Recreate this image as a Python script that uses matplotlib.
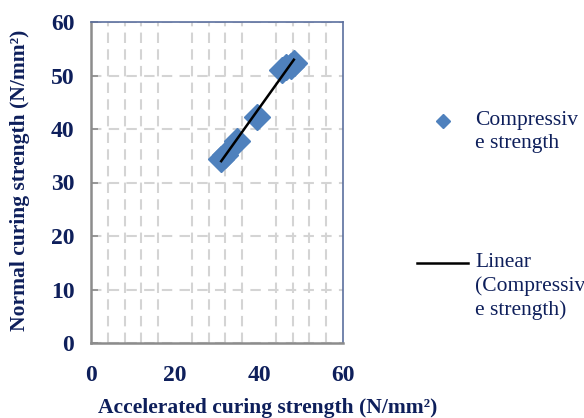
import numpy as np
import matplotlib
matplotlib.use("Agg")
import matplotlib.pyplot as plt
from matplotlib.lines import Line2D
from matplotlib.ticker import MultipleLocator

# accelerated vs normal curing compressive strength (N/mm2)
accel = [31.0, 31.9, 34.7, 39.5, 45.5, 46.5, 47.5, 48.3]
normal = [34.4, 35.1, 37.8, 42.2, 51.0, 51.5, 51.8, 52.4]

series_label = "Compressiv\ne strength"
trend_label = "Linear\n(Compressiv\ne strength)"

navy = "#0e1f5b"
blue = "#4f81bd"
plt.rcParams["font.family"] = ["Liberation Serif", "DejaVu Serif"]

fig = plt.figure(figsize=(5.84, 4.18), dpi=100)
ax = fig.add_axes([91/584, 1-343/418, 252/584, 321/418])

ax.plot(accel, normal, linestyle="none", marker="D", markersize=13,
        color=blue, markeredgecolor=blue, zorder=3)

# least squares trend line over the data range
k, b = np.polyfit(accel, normal, 1)
xs = np.array([min(accel), max(accel)])
ax.plot(xs, k*xs + b, color="black", lw=1.8, zorder=4)

ax.set_xlim(0, 60)
ax.set_ylim(0, 60)
ax.set_xticks([0, 20, 40, 60])
ax.set_yticks(range(0, 61, 10))
ax.xaxis.set_minor_locator(MultipleLocator(4))
ax.yaxis.grid(True, which="major", color="#d4d4d4", lw=1.5, ls=(0, (5, 3.5)))
ax.xaxis.grid(True, which="minor", color="#d4d4d4", lw=1.5, ls=(0, (5, 3)))
ax.set_axisbelow(True)

ax.tick_params(axis="y", direction="in", length=5, width=1.2, color="#8c8c8c",
               labelsize=17, labelcolor=navy, pad=12)
ax.tick_params(axis="x", length=0, labelsize=17, labelcolor=navy, pad=16)
ax.tick_params(which="minor", length=0)
for t in ax.get_xticklabels() + ax.get_yticklabels():
    t.set_fontweight("bold")

for s in ("left", "bottom"):
    ax.spines[s].set_color("#8c8c8c")
    ax.spines[s].set_linewidth(1.8)
for s in ("top", "right"):
    ax.spines[s].set_color("#5b6f9e")
    ax.spines[s].set_linewidth(1.2)

fig.text(20/584, 1-180/418, "Normal curing strength (N/mm²)", rotation=90,
         ha="center", va="center", fontsize=15.5, fontweight="bold", color=navy)
fig.text(268/584, 1-408/418, "Accelerated curing strength (N/mm²)",
         ha="center", va="center", fontsize=15.5, fontweight="bold", color=navy)

# legend entries
fig.add_artist(Line2D([443/584], [1-121/418], marker="D", markersize=7.5,
                      color=blue, linestyle="none"))
fig.text(475/584, 1-111/418, series_label, ha="left", va="top",
         fontsize=15.5, color=navy, linespacing=1.3)
fig.add_artist(Line2D([417/584, 468/584], [1-263/418, 1-263/418],
                      color="black", lw=1.8))
fig.text(475/584, 1-253/418, trend_label, ha="left", va="top",
         fontsize=15.5, color=navy, linespacing=1.3)

fig.savefig("out.png", dpi=100)
